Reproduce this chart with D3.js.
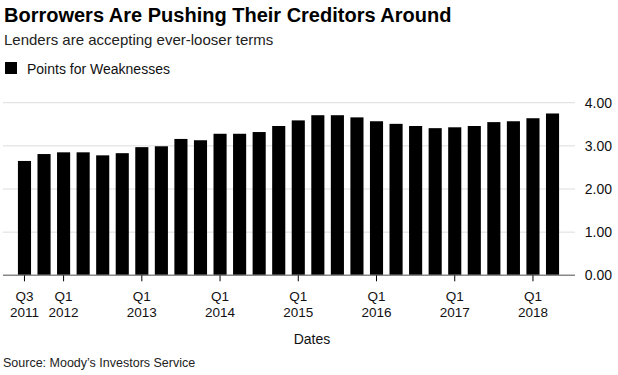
<!DOCTYPE html>
<html>
<head>
<meta charset="utf-8">
<script src="https://cdn.jsdelivr.net/npm/d3@7"></script>
<style>
  body { margin: 0; background: #fff; font-family: "Liberation Sans", Arial, sans-serif; }
</style>
</head>
<body>
<div id="chart"></div>
<script>
// quarters Q3 2011 .. Q2 2018
const quarters = [
  '2011Q3','2011Q4',
  '2012Q1','2012Q2','2012Q3','2012Q4',
  '2013Q1','2013Q2','2013Q3','2013Q4',
  '2014Q1','2014Q2','2014Q3','2014Q4',
  '2015Q1','2015Q2','2015Q3','2015Q4',
  '2016Q1','2016Q2','2016Q3','2016Q4',
  '2017Q1','2017Q2','2017Q3','2017Q4',
  '2018Q1','2018Q2'
];
const weaknessPoints = [
  2.65, 2.81,
  2.85, 2.85, 2.78, 2.83,
  2.97, 2.99, 3.16, 3.13,
  3.28, 3.28, 3.32, 3.46,
  3.59, 3.71, 3.71, 3.66,
  3.57, 3.51, 3.46, 3.41,
  3.43, 3.46, 3.55, 3.57,
  3.64, 3.75
];
const tickQuarters = ['2011Q3','2012Q1','2013Q1','2014Q1','2015Q1','2016Q1','2017Q1','2018Q1'];
const yTicks = [0, 1, 2, 3, 4];

const width = 618, height = 375;
const svg = d3.select('#chart').append('svg').attr('width', width).attr('height', height);

// titles
svg.append('text').attr('x', 4).attr('y', 22)
  .style('font-size', '20px').style('font-weight', 'bold').style('fill', '#000')
  .text('Borrowers Are Pushing Their Creditors Around');
svg.append('text').attr('x', 4).attr('y', 45)
  .style('font-size', '15px').style('fill', '#222')
  .text('Lenders are accepting ever-looser terms');

// legend
svg.append('rect').attr('x', 5).attr('y', 62).attr('width', 12).attr('height', 12).attr('fill', '#000');
svg.append('text').attr('x', 27).attr('y', 74)
  .style('font-size', '14px').style('fill', '#111')
  .text('Points for Weaknesses');

const plotLeft = 3, plotRight = 575;
const x = d3.scaleBand().domain(quarters).range([14.7, 562.3]).paddingInner(0.33).paddingOuter(0.165);
const y = d3.scaleLinear().domain([0, 4]).range([275.3, 102.7]);

// grid
svg.append('g').selectAll('line').data(yTicks.filter(d => d > 0)).join('line')
  .attr('x1', plotLeft).attr('x2', plotRight)
  .attr('y1', d => y(d)).attr('y2', d => y(d))
  .attr('stroke', '#ddd').attr('stroke-width', 1);

// y axis labels on the right
const yAxis = svg.append('g').attr('transform', `translate(${width - 6},0)`)
  .call(d3.axisRight(y).tickValues(yTicks).tickSize(0).tickPadding(0).tickFormat(d3.format('.2f')));
yAxis.select('.domain').remove();
yAxis.selectAll('text').attr('text-anchor', 'end')
  .style('font-size', '14px').style('font-family', '"Liberation Sans", Arial, sans-serif').style('fill', '#111');

// bars
svg.append('g').selectAll('rect').data(quarters).join('rect')
  .attr('x', d => x(d))
  .attr('width', x.bandwidth())
  .attr('y', (d, i) => y(weaknessPoints[i]))
  .attr('height', (d, i) => y(0) - y(weaknessPoints[i]))
  .attr('fill', '#000');

// baseline
svg.append('line').attr('x1', plotLeft).attr('x2', plotRight)
  .attr('y1', y(0)).attr('y2', y(0))
  .attr('stroke', '#888').attr('stroke-width', 1.5);

// x axis
const xAxis = svg.append('g').attr('transform', `translate(0,${y(0)})`)
  .call(d3.axisBottom(x).tickValues(tickQuarters).tickSize(6).tickPadding(6).tickFormat(() => ''));
xAxis.select('.domain').remove();
xAxis.selectAll('.tick line').attr('stroke', '#000');
xAxis.selectAll('.tick').each(function(d) {
  const t = d3.select(this);
  t.append('text').attr('y', 26).attr('text-anchor', 'middle').attr('fill', '#111')
    .style('font-size', '13.5px').style('font-family', '"Liberation Sans", Arial, sans-serif')
    .text(d.slice(4));
  t.append('text').attr('y', 41.5).attr('text-anchor', 'middle').attr('fill', '#111')
    .style('font-size', '13.5px').style('font-family', '"Liberation Sans", Arial, sans-serif')
    .text(d.slice(0, 4));
});

svg.append('text').attr('x', 312).attr('y', 344).attr('text-anchor', 'middle')
  .style('font-size', '14px').style('fill', '#111').text('Dates');

svg.append('text').attr('x', 3).attr('y', 367)
  .style('font-size', '12.5px').style('fill', '#222').text('Source: Moody\u2019s Investors Service');
</script>
</body>
</html>
